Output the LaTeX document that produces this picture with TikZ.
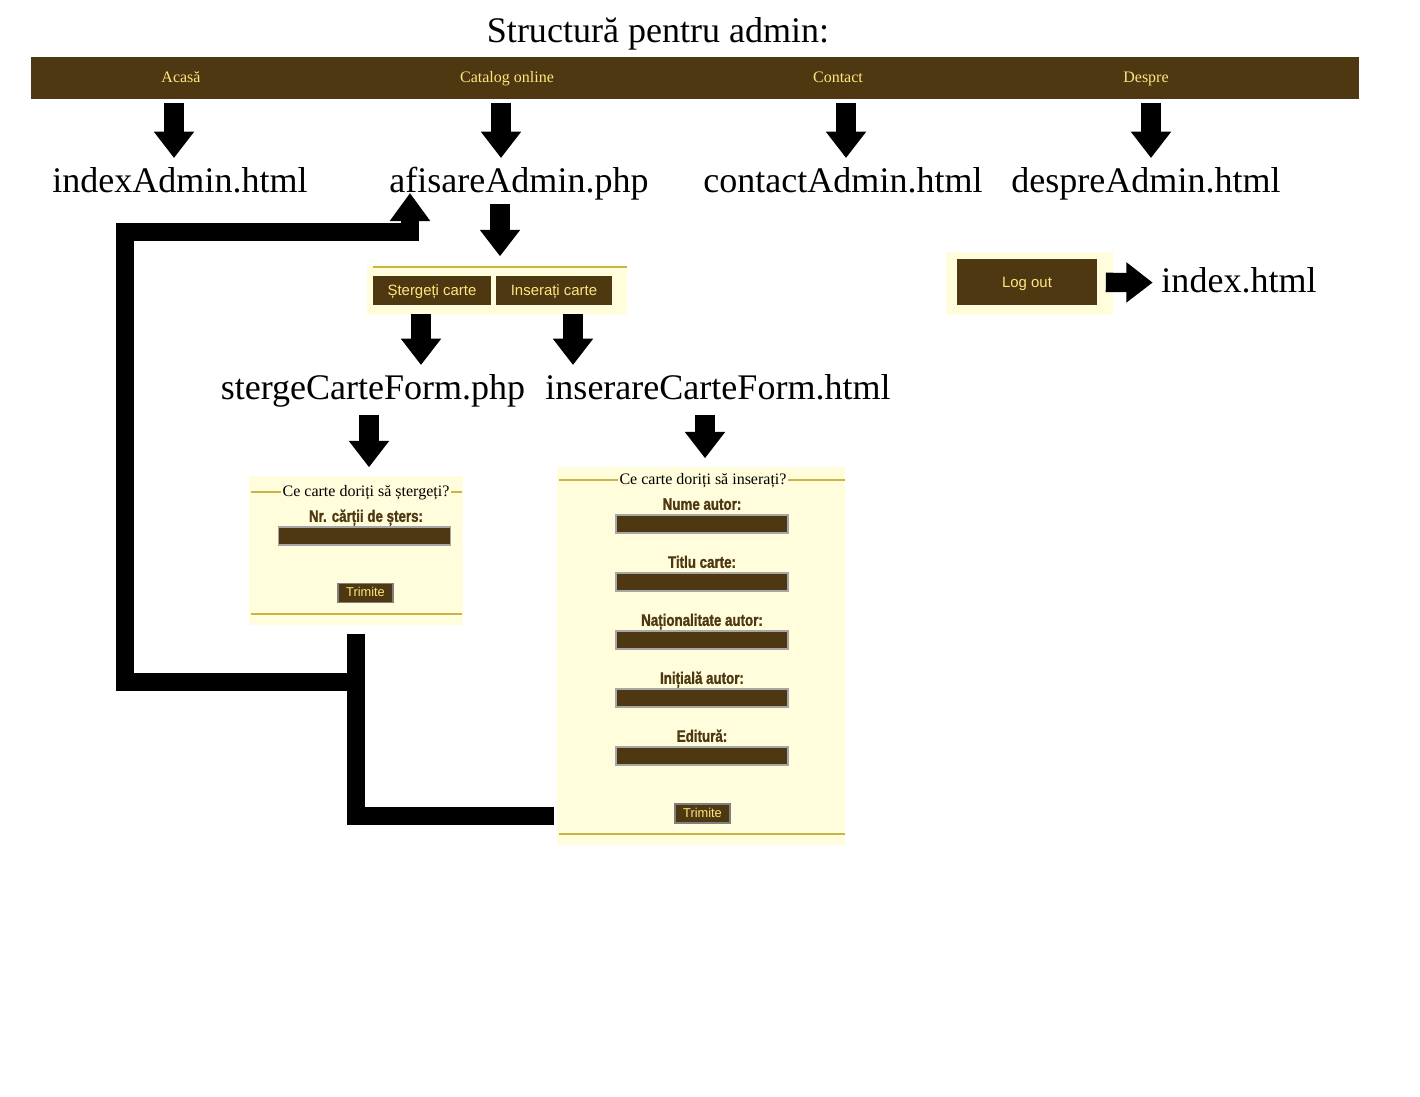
\documentclass[tikz,border=0pt]{standalone}
\usepackage{fontspec}
\setmainfont{Liberation Serif}
\setsansfont{Liberation Sans}
\newfontfamily\labelfont[FakeStretch=0.8,FakeBold=1.2]{Liberation Sans}
\usetikzlibrary{arrows.meta,calc}
\definecolor{barbrown}{HTML}{4E3811}
\definecolor{menuyellow}{HTML}{FFE680}
\definecolor{panelcream}{HTML}{FFFDDC}
\definecolor{fieldgold}{HTML}{C8B447}

\begin{document}
\begin{tikzpicture}[x=0.02cm,y=-0.02cm,
	page_node/.style={inner sep=0pt,outer sep=5pt,text height=14.35pt,text depth=4.1pt,font=\fontsize{20.5}{24}\selectfont},
	menu_item/.style={inner sep=0pt,outer sep=2pt,minimum height=0.84cm,text height=6.4pt,text depth=1.8pt,text=menuyellow,font=\fontsize{9.1}{11}\selectfont},
	panel_node/.style={fill=panelcream,inner sep=0pt,outer sep=5pt},
	tab_button/.style={fill=barbrown,text=menuyellow,inner sep=0pt,outer sep=5pt,minimum height=0.58cm,text height=7.2pt,text depth=1pt,font=\sffamily\fontsize{8.5}{10}\selectfont},
	form_legend/.style={fill=panelcream,inner xsep=1pt,inner ysep=0pt,text height=6.4pt,text depth=1.8pt,font=\fontsize{9.1}{11}\selectfont},
	form_label/.style={inner sep=0pt,text height=7pt,text depth=1.5pt,text=barbrown,font=\labelfont\bfseries\fontsize{9.5}{11}\selectfont},
	form_field/.style={fill=barbrown,draw=gray!70,line width=1pt,minimum width=3.44cm,minimum height=0.36cm,inner sep=0pt},
	send_button/.style={fill=barbrown,draw=gray,line width=1pt,text=menuyellow,minimum width=1.1cm,minimum height=0.38cm,inner sep=0pt,text height=5.3pt,text depth=1.3pt,font=\sffamily\fontsize{7.3}{9}\selectfont},
	gold_rule/.style={draw=fieldgold,line width=0.8pt},
	block_arrow/.style={line width=11pt,-{Triangle[width=22pt,length=15pt]}},
	back_link/.style={line width=10.5pt,line join=miter}]

	\useasboundingbox (0,0) rectangle (1420,1096);

	\node[page_node] (0) at (658,33) {Structură pentru admin:};

	\fill[barbrown] (31,57) rectangle (1359,99);
	\node[menu_item] (1) at (181,78) {Acasă};
	\node[menu_item] (2) at (507,78) {Catalog online};
	\node[menu_item] (3) at (838,78) {Contact};
	\node[menu_item] (4) at (1146,78) {Despre};

	\node[page_node] (5) at (180,183) {indexAdmin.html};
	\node[page_node] (6) at (519,183) {afisareAdmin.php};
	\node[page_node] (7) at (843,183) {contactAdmin.html};
	\node[page_node] (8) at (1146,183) {despreAdmin.html};

	\node[panel_node,minimum width=5.2cm,minimum height=1cm] (9) at (497,290) {};
	\draw[gold_rule] (373,267) -- (627,267);
	\node[tab_button,minimum width=2.36cm] (10) at (432,290.5) {Ștergeți carte};
	\node[tab_button,minimum width=2.32cm] (11) at (554,290.5) {Inserați carte};

	\node[page_node] (12) at (373,390) {stergeCarteForm.php};
	\node[page_node] (13) at (718,390) {inserareCarteForm.html};

	\node[panel_node,minimum width=4.28cm,minimum height=2.98cm] (14) at (356,550.5) {};
	\draw[gold_rule] (251,492) -- (462,492);
	\draw[gold_rule] (251,614) -- (462,614);
	\node[form_legend] (19) at (366,492) {Ce carte doriți să ștergeți?};
	\node[form_label] (20) at (366,517) {Nr. cărții de șters:};
	\node[form_field] (21) at (364.5,536) {};
	\node[send_button] (22) at (365.5,593) {Trimite};

	\node[panel_node,minimum width=5.76cm,minimum height=7.56cm] (15) at (701,656) {};
	\draw[gold_rule] (559,480) -- (845,480);
	\draw[gold_rule] (559,834) -- (845,834);
	\node[form_legend] (23) at (703,480) {Ce carte doriți să inserați?};
	\node[form_label] (24) at (702,505) {Nume autor:};
	\node[form_field] (25) at (702,524) {};
	\node[form_label] (26) at (702,563) {Titlu carte:};
	\node[form_field] (27) at (702,582) {};
	\node[form_label] (28) at (702,621) {Naționalitate autor:};
	\node[form_field] (29) at (702,640) {};
	\node[form_label] (30) at (702,679) {Inițială autor:};
	\node[form_field] (31) at (702,698) {};
	\node[form_label] (32) at (702,737) {Editură:};
	\node[form_field] (33) at (702,756) {};
	\node[send_button] (34) at (702.5,813.5) {Trimite};

	\node[panel_node,minimum width=3.34cm,minimum height=1.26cm] (16) at (1029.5,283.5) {};
	\node[tab_button,minimum width=2.8cm,minimum height=0.92cm] (17) at (1027,282) {Log out};
	\node[page_node] (18) at (1239,283) {index.html};

	\draw[block_arrow] ($(1.south)+(-7,0)$) -- ($(5.north)+(-6,0)$);
	\draw[block_arrow] ($(2.south)+(-6,0)$) -- ($(6.north)+(-18,0)$);
	\draw[block_arrow] ($(3.south)+(8,0)$) -- ($(7.north)+(3,0)$);
	\draw[block_arrow] ($(4.south)+(5,0)$) -- ($(8.north)+(5,0)$);
	\draw[block_arrow] ($(6.south)+(-19,-4)$) -- ($(9.north)+(3,0)$);
	\draw[block_arrow] ($(10.south)+(-11,0)$) -- ($(12.north)+(48,0)$);
	\draw[block_arrow] ($(11.south)+(19,0)$) -- ($(13.north)+(-145,0)$);
	\draw[block_arrow] ($(12.south)+(-4,0)$) -- ($(14.north)+(13,0)$);
	\draw[block_arrow] ($(13.south)+(-13,0)$) -- ($(15.north)+(4,0)$);
	\draw[block_arrow] (17) -- (18);

	\draw[back_link] ($(15.west)+(6,160)$) -| (14.south);
	\draw[back_link,-{Triangle[width=22pt,length=16pt]}] ($(14.south)+(0,48)$) -| ($(5.south)+(-55,24)$) -| ($(6.south)+(-109,-15)$);
\end{tikzpicture}
\end{document}
